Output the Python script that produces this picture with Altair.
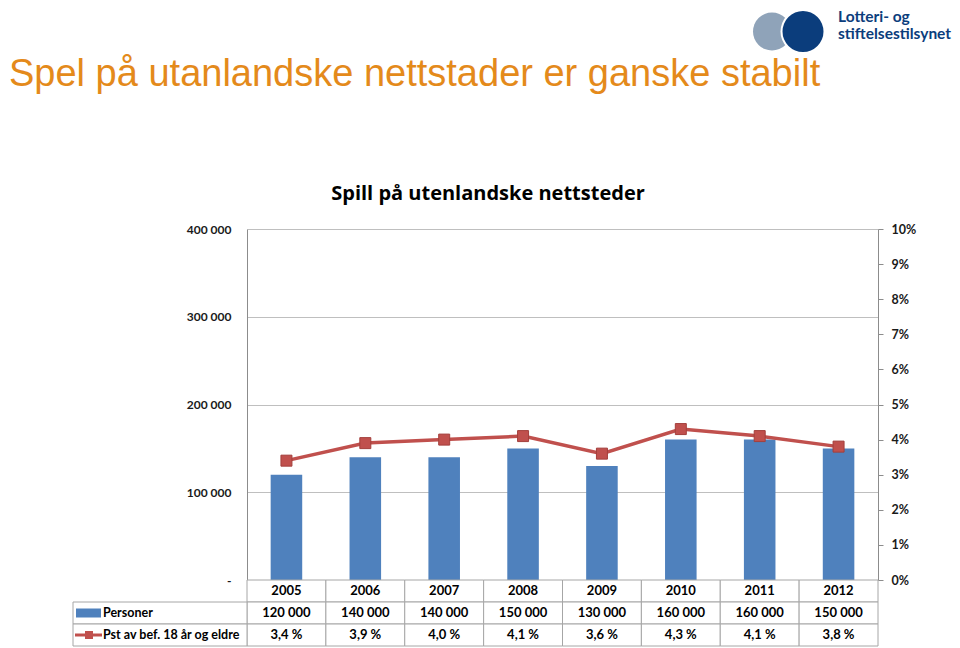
import altair as alt
import pandas as pd

YEARS = ["2005", "2006", "2007", "2008", "2009", "2010", "2011", "2012"]
PERSONER = [120000, 140000, 140000, 150000, 130000, 160000, 160000, 150000]
PST = [3.4, 3.9, 4.0, 4.1, 3.6, 4.3, 4.1, 3.8]
ROWS = ["År", "Personer", "Pst av bef. 18 år og eldre"]
LEFT_TICKS = [0, 100000, 200000, 300000, 400000]
RIGHT_TICKS = [0, 0.01, 0.02, 0.03, 0.04, 0.05, 0.06, 0.07, 0.08, 0.09, 0.10]
TITLE = "Spel på utanlandske nettstader er ganske stabilt"
CHART_TITLE = "Spill på utenlandske nettsteder"
LOGO_LINES = ["Lotteri- og", "stiftelsestilsynet"]

BLUE = "#4F81BD"
RED = "#C0504D"
ORANGE = "#E48A1B"
NAVY = "#0B3D7C"
LOGO_GREY = "#8FA3B9"
GRID = "#BFBFBF"
AXIS = "#8C8C8C"
CELL = "#A6A6A6"
FONT = "Lato"

W, H = 631, 351
ROW_H = 22

df = pd.DataFrame({"year": YEARS, "personer": PERSONER, "pst": [p / 100 for p in PST]})

xs = alt.X("year:O", scale=alt.Scale(paddingInner=0.6, paddingOuter=0.3), axis=None)

bars = alt.Chart(df).mark_bar(color=BLUE).encode(
    x=xs,
    y=alt.Y(
        "personer:Q",
        scale=alt.Scale(domain=[0, 400000], nice=False),
        axis=alt.Axis(
            values=LEFT_TICKS, title=None, ticks=False, grid=True, gridColor=GRID,
            domainColor=AXIS, labelPadding=16, labelFont=FONT, labelFontWeight="bold",
            labelFontSize=12, labelColor="#1a1a1a",
            labelExpr="datum.value == 0 ? '-' : replace(format(datum.value, ','), ',', ' ')",
        ),
    ),
)

line = alt.Chart(df).mark_line(
    color=RED, strokeWidth=3.5,
    point=alt.OverlayMarkDef(shape="square", size=121, filled=True, color=RED, stroke="#A33F3C", strokeWidth=1),
).encode(
    x=xs,
    y=alt.Y(
        "pst:Q",
        scale=alt.Scale(domain=[0, 0.1], nice=False),
        axis=alt.Axis(
            orient="right", values=RIGHT_TICKS, format=".0%", title=None, grid=False,
            ticks=True, tickSize=5, tickColor=AXIS, domainColor=AXIS, labelPadding=8,
            labelFont=FONT, labelFontWeight="bold", labelFontSize=12.5, labelColor="#1a1a1a",
        ),
    ),
)


def label(text, x, y, **kw):
    return alt.Chart(pd.DataFrame({"t": [text]})).mark_text(**kw).encode(
        text="t:N", x=alt.value(x), y=alt.value(y)
    )


def dot(x, y, **kw):
    return alt.Chart(pd.DataFrame({"t": [0]})).mark_point(shape="circle", filled=True, opacity=1, strokeWidth=0, **kw).encode(
        x=alt.value(x), y=alt.value(y)
    )


title = label(TITLE, -238, -143, font="Liberation Sans", fontSize=38, color=ORANGE, align="left", baseline="alphabetic")
chart_title = label(CHART_TITLE, 241, -29, font="Open Sans", fontSize=20, fontWeight="bold", color="#000000", align="center", baseline="alphabetic")
LOGO_CY = -197.5
logo_a = dot(525, LOGO_CY, size=38 * 38, color=LOGO_GREY)
logo_w = dot(556, LOGO_CY, size=45 * 45, color="white")
logo_b = dot(556, LOGO_CY, size=41 * 41, color=NAVY)
logo_t1 = label(LOGO_LINES[0], 591, -207, font=FONT, fontSize=15.5, fontWeight="bold", color=NAVY, align="left", baseline="alphabetic")
logo_t2 = label(LOGO_LINES[1], 591, -190, font=FONT, fontSize=15.5, fontWeight="bold", color=NAVY, align="left", baseline="alphabetic")

main = alt.layer(bars, line, title, chart_title, logo_a, logo_w, logo_b, logo_t1, logo_t2).resolve_scale(
    y="independent"
).properties(width=W, height=H)

# ---- data table under the plot ----
recs = []
for i, y in enumerate(YEARS):
    recs.append({"year": y, "row": ROWS[0], "text": y})
    recs.append({"year": y, "row": ROWS[1], "text": f"{PERSONER[i]:,}".replace(",", " ")})
    recs.append({"year": y, "row": ROWS[2], "text": f"{PST[i]:.1f}".replace(".", ",") + " %"})
tab = pd.DataFrame(recs)

tx = alt.X("year:O", scale=alt.Scale(paddingInner=0, paddingOuter=0), axis=None)
ty = alt.Y("row:N", scale=alt.Scale(domain=ROWS, paddingInner=0, paddingOuter=0), axis=None)

cells = alt.Chart(tab).mark_rect(fill="white", stroke=CELL, strokeWidth=1).encode(x=tx, y=ty)
cell_text = alt.Chart(tab).mark_text(font=FONT, fontSize=13, fontWeight="bold", color="#000000").encode(
    x=tx, y=ty, text="text:N"
)

lab = pd.DataFrame({"row": ROWS[1:]})
lab_cells = alt.Chart(lab).mark_rect(fill="white", stroke=CELL, strokeWidth=1).encode(
    x=alt.value(-174), x2=alt.value(0), y=ty
)
lab_text = alt.Chart(lab).mark_text(font=FONT, fontSize=12.5, fontWeight="bold", color="#000000", align="left").encode(
    x=alt.value(-144), y=ty, text="row:N"
)
sym_bar = alt.Chart(pd.DataFrame({"row": [ROWS[1]]})).mark_rule(color=BLUE, strokeWidth=9).encode(
    x=alt.value(-171), x2=alt.value(-146), y=ty
)
sym_line = alt.Chart(pd.DataFrame({"row": [ROWS[2]]})).mark_rule(color=RED, strokeWidth=3).encode(
    x=alt.value(-172), x2=alt.value(-145), y=ty
)
sym_pt = alt.Chart(pd.DataFrame({"row": [ROWS[2]]})).mark_point(shape="square", filled=True, opacity=1, size=64, color=RED).encode(
    x=alt.value(-158), y=ty
)

table = alt.layer(cells, cell_text, lab_cells, lab_text, sym_bar, sym_line, sym_pt).properties(
    width=W, height=ROW_H * 3
)

chart = alt.vconcat(main, table, spacing=0, bounds="flush").properties(padding=0).configure_view(stroke="transparent")

chart.save("out.html", embed_options={"renderer": "svg", "actions": False})
